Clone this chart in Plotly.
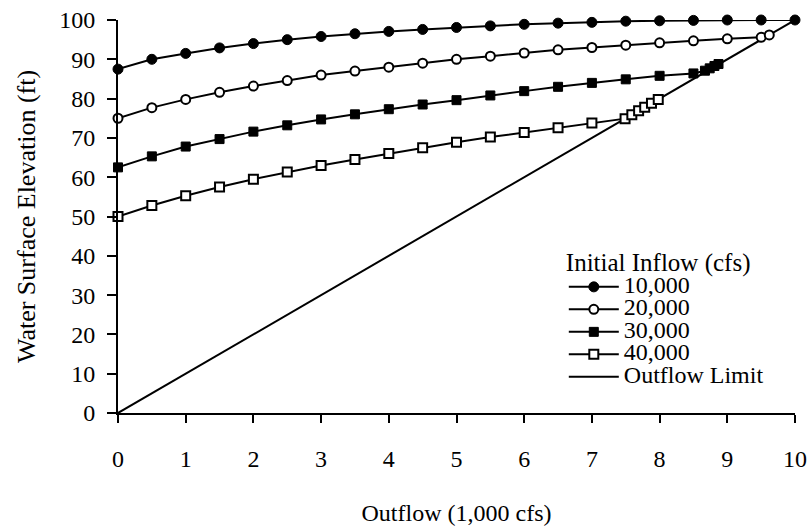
import plotly.graph_objects as go

# ---- data ----
x_10k = [0, 0.5, 1, 1.5, 2, 2.5, 3, 3.5, 4, 4.5, 5, 5.5, 6, 6.5, 7, 7.5, 8, 8.5, 9, 9.5, 10]
y_10k = [87.5, 90.0, 91.5, 92.9, 94.0, 95.0, 95.8, 96.5, 97.1, 97.6, 98.1, 98.5, 98.9, 99.2, 99.4,
         99.7, 99.8, 99.9, 100.0, 100.0, 100.0]

x_20k = [0, 0.5, 1, 1.5, 2, 2.5, 3, 3.5, 4, 4.5, 5, 5.5, 6, 6.5, 7, 7.5, 8, 8.5, 9, 9.5, 9.62]
y_20k = [75.0, 77.7, 79.8, 81.6, 83.2, 84.6, 86.0, 87.0, 88.0, 89.0, 90.0, 90.8, 91.6, 92.4, 93.0,
         93.6, 94.2, 94.7, 95.2, 95.6, 96.2]

x_30k = [0, 0.5, 1, 1.5, 2, 2.5, 3, 3.5, 4, 4.5, 5, 5.5, 6, 6.5, 7, 7.5, 8, 8.5, 8.67, 8.74, 8.81, 8.87]
y_30k = [62.5, 65.3, 67.8, 69.7, 71.6, 73.2, 74.7, 76.0, 77.3, 78.5, 79.6, 80.8, 81.9, 83.0, 84.0,
         84.9, 85.8, 86.4, 87.1, 87.7, 88.3, 88.8]

x_40k = [0, 0.5, 1, 1.5, 2, 2.5, 3, 3.5, 4, 4.5, 5, 5.5, 6, 6.5, 7, 7.49, 7.59, 7.69, 7.78, 7.88, 7.98]
y_40k = [50.0, 52.8, 55.3, 57.5, 59.5, 61.3, 63.0, 64.5, 66.0, 67.5, 68.9, 70.2, 71.4, 72.6, 73.8,
         74.9, 75.9, 76.9, 77.8, 78.8, 79.8]

x_limit = [0, 10]
y_limit = [0, 100]

series_names = ["10,000", "20,000", "30,000", "40,000", "Outflow Limit"]
x_ticks = [0, 1, 2, 3, 4, 5, 6, 7, 8, 9, 10]
y_ticks = [0, 10, 20, 30, 40, 50, 60, 70, 80, 90, 100]

FONT = "Liberation Serif, Times New Roman, serif"
TICK = 24
LEG = 24


def lbl(s):
    return '<span style="font-size:%dpx">%s</span>' % (LEG, s)


fig = go.Figure()

# diagonal first so it sits underneath the series
fig.add_trace(go.Scatter(x=x_limit, y=y_limit, mode="lines", name=lbl(series_names[4]),
                         legendrank=5, line=dict(color="black", width=2), cliponaxis=False))

styles = [
    (x_10k, y_10k, dict(symbol="circle", size=10, color="black", line=dict(color="black", width=1))),
    (x_20k, y_20k, dict(symbol="circle", size=9, color="white", line=dict(color="black", width=2))),
    (x_30k, y_30k, dict(symbol="square", size=9, color="black", line=dict(color="black", width=1))),
    (x_40k, y_40k, dict(symbol="square", size=9, color="white", line=dict(color="black", width=2))),
]
for i, ((xs, ys, mk), name) in enumerate(zip(styles, series_names[:4])):
    fig.add_trace(go.Scatter(x=xs, y=ys, mode="lines+markers", name=lbl(name), legendrank=i + 1,
                             line=dict(color="black", width=2), marker=mk, cliponaxis=False))

fig.update_layout(
    width=812, height=526,
    margin=dict(l=118, r=17, t=20, b=113, autoexpand=False),
    paper_bgcolor="white", plot_bgcolor="white",
    font=dict(family=FONT, size=TICK, color="black"),
    legend=dict(
        x=0.6585, y=0.445, xanchor="left", yanchor="top",
        font=dict(family=FONT, size=15, color="black"),
        title=dict(text="Initial Inflow (cfs)", font=dict(family=FONT, size=25)),
        traceorder="normal", bgcolor="rgba(0,0,0,0)", borderwidth=0,
        tracegroupgap=0, itemwidth=50,
    ),
    xaxis=dict(
        range=[0, 10], tickvals=x_ticks, ticktext=[str(v) for v in x_ticks],
        showline=True, linecolor="black", linewidth=2, mirror=False,
        ticks="outside", ticklen=8, tickwidth=2, tickcolor="black",
        showgrid=False, zeroline=False, ticklabelstandoff=15,
        tickfont=dict(family=FONT, size=TICK),
        title=dict(text="Outflow (1,000 cfs)", font=dict(family=FONT, size=24), standoff=33),
        automargin=False,
    ),
    yaxis=dict(
        range=[0, 100], tickvals=y_ticks, ticktext=[str(v) for v in y_ticks],
        showline=True, linecolor="black", linewidth=2, mirror=False,
        ticks="outside", ticklen=9, tickwidth=2, tickcolor="black",
        showgrid=False, zeroline=False, ticklabelstandoff=7,
        tickfont=dict(family=FONT, size=TICK),
        title=dict(text="Water Surface Elevation (ft)", font=dict(family=FONT, size=26), standoff=16),
        automargin=False,
    ),
)

fig.write_html("out.html")
